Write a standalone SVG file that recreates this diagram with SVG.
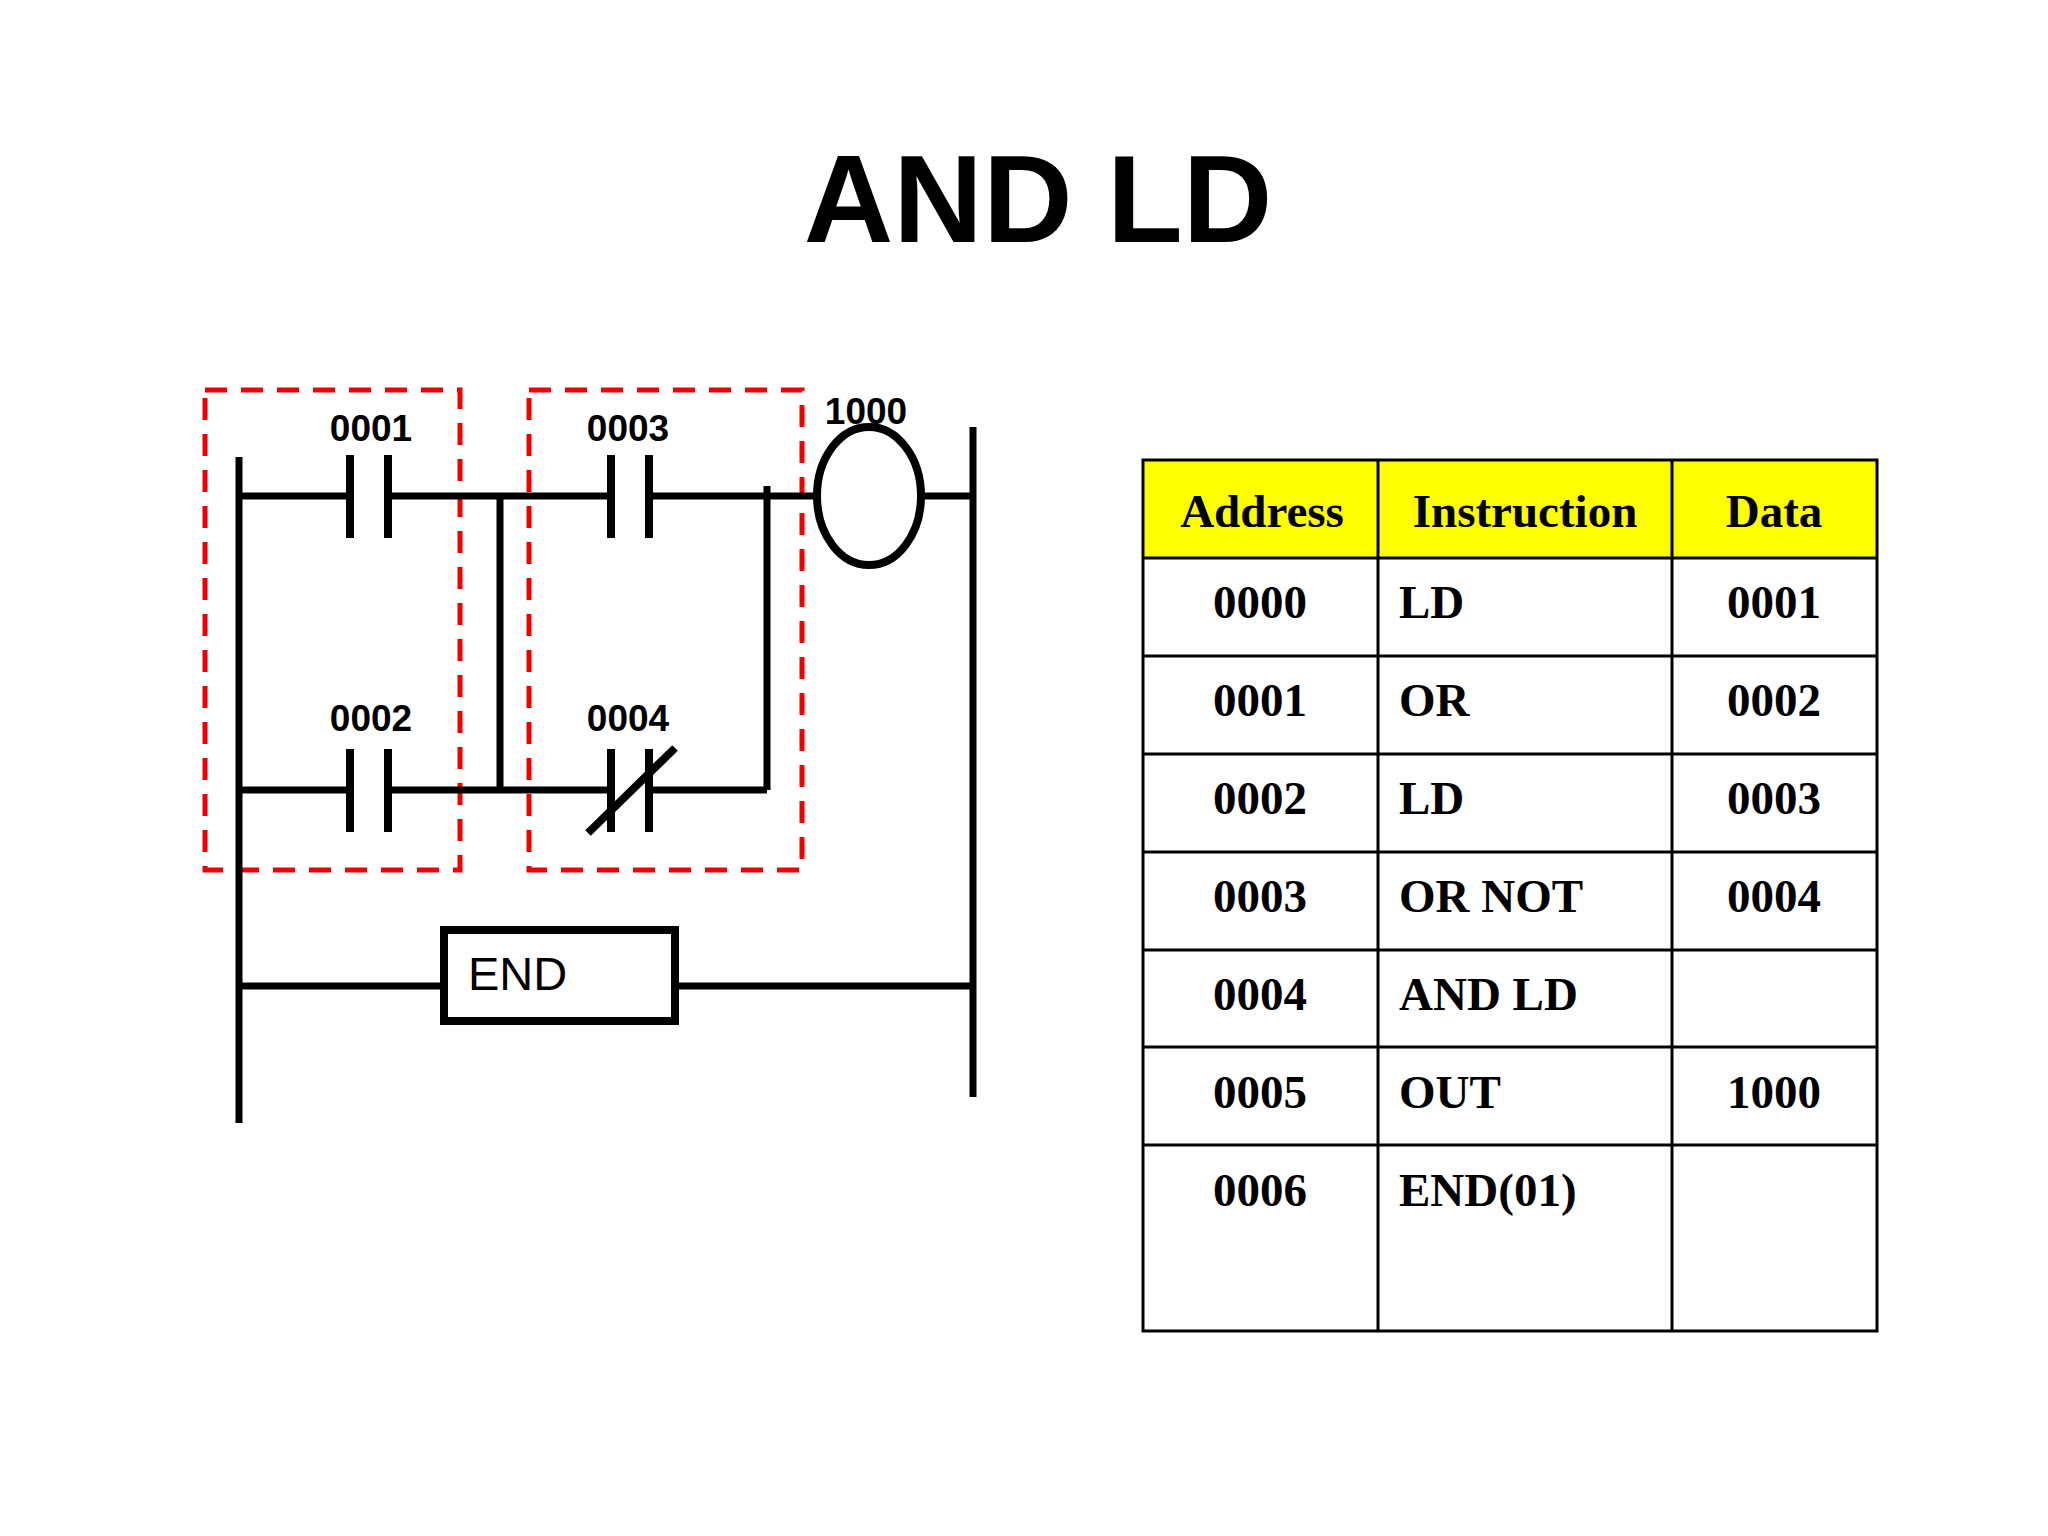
<svg xmlns="http://www.w3.org/2000/svg" width="2048" height="1536" viewBox="0 0 2048 1536">
<style>
.w{stroke:#000;stroke-width:7;fill:none}
.p{stroke:#000;stroke-width:8;fill:none}
.d{stroke:#e00;stroke-width:5;fill:none;stroke-dasharray:22 14}
.lb{font-family:"Liberation Sans",Arial,sans-serif;font-weight:bold;font-size:37px;text-anchor:middle}
.t{font-family:"Liberation Serif","Times New Roman",serif;font-weight:bold;font-size:47px}
.c{text-anchor:middle}
.g{stroke:#000;stroke-width:3;fill:none}
</style>
<rect width="2048" height="1536" fill="#fff"/>
<text x="1038" y="242" font-family="Liberation Sans,Arial,sans-serif" font-weight="bold" font-size="124" text-anchor="middle">AND LD</text>
<g id="boxes">
<rect class="d" x="205" y="390" width="255" height="480"/>
<rect class="d" x="529" y="390" width="273" height="480"/>
</g>
<g id="connectors">
<line class="w" x1="239" y1="457" x2="239" y2="1123"/>
<line class="w" x1="973" y1="427" x2="973" y2="1097"/>
<line class="w" x1="239" y1="496" x2="350" y2="496"/>
<line class="w" x1="388" y1="496" x2="611" y2="496"/>
<line class="w" x1="649" y1="496" x2="817" y2="496"/>
<line class="w" x1="921" y1="496" x2="973" y2="496"/>
<line class="w" x1="239" y1="790" x2="350" y2="790"/>
<line class="w" x1="388" y1="790" x2="611" y2="790"/>
<line class="w" x1="649" y1="790" x2="767" y2="790"/>
<line class="w" x1="500" y1="496" x2="500" y2="790"/>
<line class="w" x1="767" y1="486" x2="767" y2="790"/>
<line class="w" x1="239" y1="986" x2="444" y2="986"/>
<line class="w" x1="675" y1="986" x2="973" y2="986"/>
</g>
<g id="c0001"><line class="p" x1="350" y1="455" x2="350" y2="538"/><line class="p" x1="388" y1="455" x2="388" y2="538"/><text class="lb" x="371" y="441">0001</text></g>
<g id="c0002"><line class="p" x1="350" y1="749" x2="350" y2="832"/><line class="p" x1="388" y1="749" x2="388" y2="832"/><text class="lb" x="371" y="731">0002</text></g>
<g id="c0003"><line class="p" x1="611" y1="455" x2="611" y2="538"/><line class="p" x1="649" y1="455" x2="649" y2="538"/><text class="lb" x="628" y="441">0003</text></g>
<g id="c0004"><line class="p" x1="611" y1="749" x2="611" y2="832"/><line class="p" x1="649" y1="749" x2="649" y2="832"/><line class="p" x1="588" y1="833" x2="675" y2="748"/><text class="lb" x="628" y="731">0004</text></g>
<g id="coil"><ellipse class="p" cx="869" cy="496" rx="52" ry="69"/><text class="lb" x="866" y="424">1000</text></g>
<g id="end"><rect class="p" x="444" y="930" width="231" height="91"/><text x="468" y="990" font-family="Liberation Sans,Arial,sans-serif" font-size="47">END</text></g>
<g id="table">
<rect x="1143" y="460" width="734" height="98" fill="#ff0"/>
<rect class="g" x="1143" y="460" width="734" height="871"/>
<line class="g" x1="1378" y1="460" x2="1378" y2="1331"/>
<line class="g" x1="1672" y1="460" x2="1672" y2="1331"/>
<line class="g" x1="1143" y1="558" x2="1877" y2="558"/>
<line class="g" x1="1143" y1="656" x2="1877" y2="656"/>
<line class="g" x1="1143" y1="754" x2="1877" y2="754"/>
<line class="g" x1="1143" y1="852" x2="1877" y2="852"/>
<line class="g" x1="1143" y1="950" x2="1877" y2="950"/>
<line class="g" x1="1143" y1="1047" x2="1877" y2="1047"/>
<line class="g" x1="1143" y1="1145" x2="1877" y2="1145"/>
<text class="t c" x="1262" y="527">Address</text><text class="t c" x="1525" y="527">Instruction</text><text class="t c" x="1774" y="527">Data</text>
<text class="t c" x="1260" y="618">0000</text><text class="t" x="1399" y="618">LD</text><text class="t c" x="1774" y="618">0001</text>
<text class="t c" x="1260" y="716">0001</text><text class="t" x="1399" y="716">OR</text><text class="t c" x="1774" y="716">0002</text>
<text class="t c" x="1260" y="814">0002</text><text class="t" x="1399" y="814">LD</text><text class="t c" x="1774" y="814">0003</text>
<text class="t c" x="1260" y="912">0003</text><text class="t" x="1399" y="912">OR NOT</text><text class="t c" x="1774" y="912">0004</text>
<text class="t c" x="1260" y="1010">0004</text><text class="t" x="1399" y="1010">AND LD</text>
<text class="t c" x="1260" y="1108">0005</text><text class="t" x="1399" y="1108">OUT</text><text class="t c" x="1774" y="1108">1000</text>
<text class="t c" x="1260" y="1206">0006</text><text class="t" x="1399" y="1206">END(01)</text>
</g>
</svg>
